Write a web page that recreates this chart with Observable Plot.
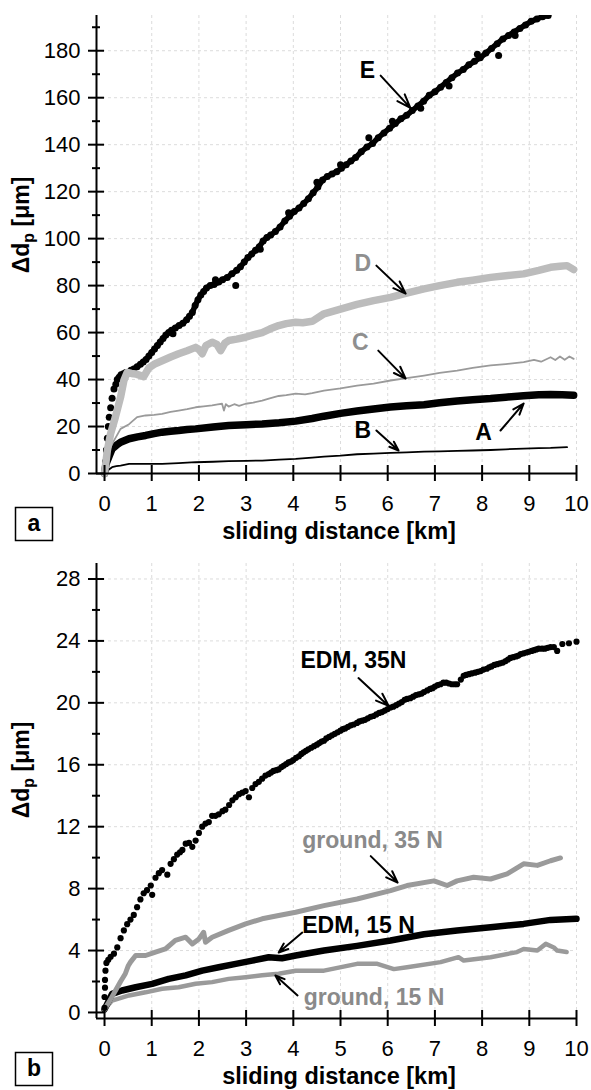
<!DOCTYPE html>
<html><head><meta charset="utf-8">
<script src="https://cdn.jsdelivr.net/npm/d3@7"></script>
<script src="https://cdn.jsdelivr.net/npm/@observablehq/plot@0.6"></script>
<style>body{margin:0;background:#fff} #c{width:591px;line-height:0}</style>
</head><body><div id="c"></div>
<script>
// ---------- tick values ----------
const xTicks = [0,1,2,3,4,5,6,7,8,9,10];
const yTicksA = [0,20,40,60,80,100,120,140,160,180];
const yMinorA = [10,30,50,70,90,110,130,150,170,190];
const yTicksB = [0,4,8,12,16,20,24,28];
const yMinorB = [2,6,10,14,18,22,26];

// ---------- panel a series: [sliding distance km, Δdp µm] ----------
const curveE = [[0,0],[0.02,5],[0.04,10],[0.06,15],[0.08,20],[0.1,24],[0.13,28],[0.16,32],[0.2,36],[0.24,38],[0.27,40],[0.31,41],[0.35,42],[0.4,42.5],[0.45,43],[0.5,43],[0.56,44],[0.62,44.5],[0.69,45.5],[0.76,46.5],[0.82,47.5],[0.88,48.5],[0.94,50],[1.0,51.5],[1.06,53],[1.12,54.5],[1.18,56],[1.24,57.5],[1.3,59],[1.36,60],[1.42,61],[1.5,62],[1.58,63],[1.66,64],[1.74,65.5],[1.8,67],[1.86,68.5],[1.92,71.5],[1.98,74],[2.04,76],[2.1,77.5],[2.16,79],[2.24,80],[2.32,80.5],[2.42,81.5],[2.5,82.5],[2.6,83.5],[2.7,85],[2.8,86.5],[2.88,88],[2.96,90],[3.04,92],[3.12,93.5],[3.2,95],[3.28,96.5],[3.36,99],[3.44,100.5],[3.52,101.5],[3.62,103],[3.72,105],[3.82,107.5],[3.92,109.5],[4.02,111.5],[4.12,113],[4.22,115],[4.32,117],[4.42,119.5],[4.52,122],[4.62,125],[4.72,126.5],[4.82,127.5],[4.92,128.5],[5.02,130],[5.12,131.5],[5.22,133],[5.32,134.5],[5.44,137],[5.56,139],[5.68,140.5],[5.8,143],[5.92,145],[6.04,147],[6.16,149],[6.28,151],[6.4,152.5],[6.52,154.5],[6.64,156.5],[6.76,158.5],[6.88,161],[7.0,162.5],[7.12,164.5],[7.24,166.5],[7.36,168.5],[7.48,170.5],[7.6,172],[7.72,174],[7.84,175.5],[7.96,177],[8.08,179],[8.2,181],[8.32,183],[8.44,185],[8.56,186.5],[8.68,188],[8.8,189.5],[8.92,191],[9.04,192.5],[9.16,193.5],[9.28,194.5],[9.4,195]];
const strayE = [[2.78,80],[5.6,143],[8.35,178],[2.35,82.5],[4.5,124],[6.1,150],[7.3,165],[3.3,95.5],[1.45,59.5],[3.9,111],[5.0,131.5],[6.7,155.5],[7.9,178.5],[8.7,186.5]];
const curveD = [[0,0],[0.06,9.8],[0.13,17],[0.23,24],[0.34,32.5],[0.41,39.6],[0.48,43],[0.57,42.6],[0.66,42.4],[0.75,41.8],[0.83,41.2],[0.94,45],[1.05,46.5],[1.22,48],[1.4,49.6],[1.57,51],[1.75,52.3],[1.93,53.7],[2.0,52.8],[2.07,51],[2.15,54.5],[2.28,55.9],[2.38,55],[2.46,52.3],[2.55,55.5],[2.63,56.6],[2.8,57.2],[2.99,58],[3.15,59],[3.34,60],[3.5,61.5],[3.69,63],[3.85,63.8],[4.05,64.4],[4.2,64.2],[4.4,64.8],[4.65,68],[5.0,70],[5.35,72],[5.7,73.6],[6.06,75],[6.4,76.8],[6.77,78.6],[7.1,80],[7.47,81.4],[7.8,82.3],[8.18,83.5],[8.5,84.2],[8.88,85],[9.2,86.5],[9.45,87.8],[9.65,88.2],[9.8,88.5],[9.94,86.8]];
const curveC = [[0,0],[0.05,6],[0.09,9.8],[0.2,14],[0.34,19],[0.52,21],[0.69,24],[0.87,24.7],[1.05,25],[1.22,25.4],[1.4,26.2],[1.57,26.8],[1.75,27.4],[1.93,28.2],[2.1,28.6],[2.28,29],[2.4,29.4],[2.49,29.7],[2.53,26.8],[2.57,29.5],[2.63,28.5],[2.75,29.5],[2.85,28.8],[2.99,29.7],[3.15,30.2],[3.34,31],[3.5,32],[3.69,33],[3.85,33.4],[4.05,34],[4.25,33.7],[4.4,34.2],[4.65,35.3],[5.0,36.2],[5.35,37.4],[5.7,38.3],[6.06,39.6],[6.4,40.6],[6.77,41.7],[7.1,42.8],[7.47,43.8],[7.8,45],[8.18,46],[8.5,46.6],[8.88,47.4],[9.1,48.4],[9.25,47.6],[9.45,49.5],[9.55,48.3],[9.65,49.8],[9.75,48.4],[9.85,49.8],[9.94,48.8]];
const curveA = [[0,0],[0.03,4],[0.09,7],[0.16,10.5],[0.25,12],[0.34,13.3],[0.52,14.8],[0.7,15.6],[0.87,16.2],[1.05,17],[1.22,17.6],[1.4,18],[1.57,18.3],[1.75,18.7],[1.93,19],[2.3,19.8],[2.63,20.4],[3.0,20.8],[3.34,21.1],[3.7,21.6],[4.05,22.3],[4.4,23.4],[4.65,24.4],[5.0,25.6],[5.35,26.6],[5.7,27.5],[6.06,28.3],[6.4,28.8],[6.77,29.3],[7.1,30.1],[7.47,30.9],[7.8,31.4],[8.18,31.9],[8.5,32.5],[8.88,33.1],[9.2,33.5],[9.45,33.6],[9.7,33.5],[9.94,33.3]];
const curveB = [[0,0],[0.08,1.5],[0.16,2.7],[0.25,3.1],[0.34,3.4],[0.52,4.1],[0.87,4.1],[1.22,4.1],[1.57,4.4],[1.93,4.8],[2.3,5.0],[2.63,5.3],[3.0,5.4],[3.34,5.5],[3.7,5.9],[4.05,6.2],[4.4,6.8],[4.65,7.2],[5.0,7.6],[5.35,8.2],[5.7,8.5],[6.06,8.8],[6.4,9.0],[6.77,9.3],[7.1,9.4],[7.47,9.6],[7.8,9.8],[8.18,10],[8.5,10.3],[8.88,10.6],[9.2,10.8],[9.45,10.9],[9.8,11.2]];

// ---------- panel b series ----------
const edm35 = [[0,0.3],[0,1.0],[0.01,1.6],[0.01,2.1],[0.02,2.7],[0.04,3.2],[0.08,3.4],[0.13,3.6],[0.2,3.8],[0.27,4.2],[0.34,4.8],[0.41,5.3],[0.48,5.7],[0.55,6.0],[0.62,6.3],[0.69,6.8],[0.76,7.3],[0.83,7.7],[0.9,7.9],[0.98,8.2],[1.01,7.6],[1.08,8.7],[1.15,9.0],[1.22,9.2],[1.33,8.9],[1.4,9.6],[1.47,9.9],[1.54,10.2],[1.6,10.35],[1.65,10.5],[1.72,10.9],[1.79,10.95],[1.86,10.7],[1.93,11.1],[2.0,11.6],[2.07,12.0],[2.14,12.2],[2.21,12.3],[2.28,12.7],[2.35,12.7],[2.42,12.8],[2.5,13.0],[2.56,13.1],[2.64,13.4],[2.71,13.7],[2.78,13.9],[2.85,14.1],[2.92,14.2],[2.99,14.3],[3.06,13.9],[3.13,14.5],[3.2,14.75],[3.27,14.9],[3.34,15.1],[3.41,15.3],[3.48,15.4],[3.53,15.5],[3.58,15.6],[3.64,15.65],[3.69,15.7],[3.75,15.85],[3.8,15.95],[3.85,16.05],[3.9,16.15],[3.95,16.2],[4.0,16.3],[4.06,16.45],[4.12,16.55],[4.17,16.7],[4.22,16.8],[4.27,16.9],[4.32,17.0],[4.38,17.1],[4.44,17.2],[4.5,17.3],[4.55,17.4],[4.6,17.5],[4.65,17.55],[4.7,17.7],[4.76,17.8],[4.82,17.9],[4.88,18.0],[4.94,18.1],[5.0,18.2],[5.05,18.3],[5.1,18.35],[5.16,18.45],[5.22,18.55],[5.28,18.6],[5.35,18.7],[5.4,18.8],[5.46,18.85],[5.52,18.9],[5.58,19.0],[5.64,19.1],[5.7,19.15],[5.76,19.25],[5.82,19.35],[5.88,19.4],[5.94,19.5],[6.0,19.6],[6.06,19.7],[6.12,19.75],[6.18,19.85],[6.24,19.95],[6.3,20.05],[6.36,20.2],[6.41,20.25],[6.48,20.3],[6.54,20.4],[6.6,20.5],[6.66,20.55],[6.72,20.6],[6.77,20.7],[6.84,20.8],[6.9,20.9],[6.95,20.95],[7.0,21.05],[7.06,21.15],[7.12,21.2],[7.18,21.3],[7.24,21.3],[7.3,21.25],[7.36,21.2],[7.42,21.2],[7.47,21.2],[7.55,21.5],[7.61,21.75],[7.66,21.8],[7.72,21.85],[7.78,21.9],[7.85,21.95],[7.91,22.0],[7.97,22.05],[8.03,22.15],[8.1,22.2],[8.15,22.3],[8.2,22.35],[8.26,22.45],[8.32,22.5],[8.38,22.55],[8.44,22.6],[8.5,22.7],[8.55,22.8],[8.6,22.9],[8.66,22.95],[8.72,23.0],[8.77,23.05],[8.82,23.15],[8.88,23.2],[8.94,23.25],[8.99,23.3],[9.05,23.35],[9.1,23.4],[9.15,23.45],[9.2,23.5],[9.27,23.5],[9.33,23.5],[9.39,23.55],[9.45,23.6],[9.52,23.6],[9.59,23.35],[9.7,23.8],[9.84,23.85],[10.0,23.95]];
const ground35 = [[0,0.2],[0.1,0.7],[0.23,1.4],[0.34,2.0],[0.44,2.5],[0.5,3.0],[0.55,3.25],[0.66,3.68],[0.87,3.68],[1.08,3.9],[1.29,4.1],[1.5,4.65],[1.72,4.86],[1.86,4.43],[2.0,4.75],[2.1,5.18],[2.14,4.54],[2.28,4.86],[2.63,5.3],[2.99,5.72],[3.34,6.05],[3.69,6.26],[4.05,6.47],[4.65,6.9],[5.35,7.33],[6.06,7.87],[6.41,8.2],[6.98,8.5],[7.26,8.2],[7.47,8.5],[7.82,8.73],[8.18,8.62],[8.53,8.95],[8.88,9.6],[9.17,9.5],[9.45,9.8],[9.66,9.98]];
const edm15 = [[0,0.2],[0.16,1.2],[0.37,1.42],[0.66,1.63],[1.01,1.85],[1.36,2.17],[1.72,2.4],[2.07,2.7],[2.42,2.92],[2.78,3.14],[3.13,3.35],[3.48,3.57],[3.76,3.5],[4.05,3.68],[4.65,4.0],[5.35,4.3],[6.06,4.65],[6.77,5.05],[7.47,5.3],[8.18,5.5],[8.88,5.72],[9.45,5.98],[10.0,6.05]];
const ground15 = [[0,0.2],[0.16,0.77],[0.52,1.1],[0.87,1.3],[1.22,1.53],[1.57,1.63],[1.93,1.85],[2.28,1.96],[2.63,2.17],[2.99,2.28],[3.34,2.4],[3.69,2.5],[4.05,2.7],[4.65,2.7],[5.35,3.14],[5.78,3.14],[6.13,2.8],[6.41,2.92],[7.12,3.25],[7.5,3.57],[7.61,3.35],[8.18,3.57],[8.74,3.9],[8.88,4.1],[9.17,4.0],[9.35,4.43],[9.52,4.2],[9.59,4.0],[9.79,3.9]];

// ---------- annotations (data coordinates) ----------
const labelsA = [
  {t:"E", x:5.57, y:171.5, c:"#000"},
  {t:"D", x:5.47, y:89.4, c:"#8f8f8f"},
  {t:"C", x:5.42, y:55.7, c:"#8f8f8f"},
  {t:"B", x:5.47, y:18.3, c:"#000"},
  {t:"A", x:8.03, y:17.4, c:"#000"}
];
const arrowsA = [
  {x1:5.85,y1:169.4,x2:6.48,y2:155.7},
  {x1:5.76,y1:88.5,x2:6.38,y2:76.6},
  {x1:5.8,y1:52.3,x2:6.38,y2:40.4},
  {x1:5.76,y1:18.3,x2:6.23,y2:9.8},
  {x1:8.39,y1:18.3,x2:8.88,y2:29.8}
];
const labelsB = [
  {t:"EDM, 35N", x:4.15, y:22.7, c:"#000"},
  {t:"ground, 35 N", x:4.19, y:11.1, c:"#8a8a8a"},
  {t:"EDM, 15 N", x:4.19, y:5.6, c:"#000"},
  {t:"ground, 15 N", x:4.22, y:0.97, c:"#8a8a8a"}
];
const arrowsB = [
  {x1:5.38,y1:21.6,x2:6.02,y2:19.8},
  {x1:5.64,y1:10.1,x2:6.21,y2:8.39},
  {x1:4.19,y1:5.16,x2:3.69,y2:3.87},
  {x1:4.09,y1:1.1,x2:3.62,y2:2.39}
];

const toObj = a => a.map(([x,y]) => ({x,y}));
const FONT = "'Liberation Sans', Arial, Helvetica, sans-serif";

function frameMarks(yTicks, gridY){
  return [
    Plot.gridX(xTicks.slice(1), {stroke:"#dcdcdc", strokeOpacity:1, strokeDasharray:"3,3"}),
    Plot.gridY(gridY, {stroke:"#dcdcdc", strokeOpacity:1, strokeDasharray:"3,3"}),
    Plot.text(xTicks, {x:d=>d, text:d=>String(d), frameAnchor:"bottom", lineAnchor:"top", dy:22, fontSize:22, fill:"#000"}),
    Plot.text(yTicks, {y:d=>d, text:d=>String(d), frameAnchor:"left", textAnchor:"end", dx:-16, fontSize:22, fill:"#000"})
  ];
}
function axisLines(xmin, ymin, yTicks, yMinor){
  return [
    Plot.ruleY([ymin], {stroke:"#000", strokeWidth:2}),
    Plot.ruleX([xmin], {stroke:"#000", strokeWidth:2}),
    Plot.ruleX(xTicks, {x:d=>d, y1:ymin, y2:ymin, insetTop:-8, insetBottom:-8, stroke:"#000", strokeWidth:2}),
    Plot.ruleY(yTicks, {y:d=>d, x1:xmin, x2:xmin, insetLeft:-8, insetRight:-8, stroke:"#000", strokeWidth:2}),
    Plot.ruleY(yMinor, {y:d=>d, x1:xmin, x2:xmin, insetLeft:-4, insetRight:-4, stroke:"#000", strokeWidth:2})
  ];
}

function decorate(svg, letter){
  const s = d3.select(svg);
  // tick labels: make their size explicit on every element
  s.selectAll("text").filter(function(){ return /^\d+$/.test(this.textContent); })
    .attr("font-size", 22).style("font-size","22px").style("font-family", FONT);
  s.append("text").attr("x",339).attr("y",539).attr("text-anchor","middle")
    .style("font-weight","bold").style("font-size","23.5px").attr("fill","#000").text("sliding distance [km]");
  const t = s.append("text").attr("transform","translate(29,225) rotate(-90)").attr("text-anchor","middle")
    .style("font-weight","bold").style("font-size","23px").attr("fill","#000");
  t.append("tspan").text("\u0394d");
  t.append("tspan").attr("dy",5).style("font-size","16px").text("p");
  t.append("tspan").attr("dy",-5).text(" [\u03bcm]");
  s.append("rect").attr("x",15.5).attr("y",507.5).attr("width",37).attr("height",33)
    .attr("fill","#fff").attr("stroke","#000").attr("stroke-width",1.5);
  s.append("text").attr("x",34).attr("y",531).attr("text-anchor","middle")
    .style("font-weight","bold").style("font-size","23px").attr("fill","#000").text(letter);
}

const style = {fontFamily: FONT, fontSize:"22px", color:"#000", background:"#fff", overflow:"visible"};

// Panel a
const xminA = -0.17, yminA = 0;
const plotA = Plot.plot({
  width:591, height:545, marginLeft:96, marginRight:15, marginTop:15, marginBottom:72,
  x:{domain:[xminA,10], axis:null}, y:{domain:[yminA,195], axis:null}, style,
  marks:[
    ...frameMarks(yTicksA, yTicksA.slice(1)),
    Plot.line(toObj(curveB), {x:"x", y:"y", stroke:"#000", strokeWidth:1.8}),
    Plot.line(toObj(curveA), {x:"x", y:"y", stroke:"#000", strokeWidth:7.5, strokeLinecap:"round", strokeLinejoin:"round"}),
    Plot.line(toObj(curveC), {x:"x", y:"y", stroke:"#9a9a9a", strokeWidth:1.8}),
    Plot.line(toObj(curveE), {x:"x", y:"y", filter:d=>d.x>=0.45, stroke:"#000", strokeWidth:5.5, clip:true}),
    Plot.dot(toObj(curveE), {x:"x", y:"y", r:3.5, fill:"#000", clip:true}),
    Plot.dot(toObj(strayE), {x:"x", y:"y", r:3.5, fill:"#000", clip:true}),
    Plot.line(toObj(curveD), {x:"x", y:"y", stroke:"#bcbcbc", strokeWidth:7.5, strokeLinecap:"round", strokeLinejoin:"round"}),
    ...axisLines(xminA, yminA, yTicksA, yMinorA),
    Plot.arrow(arrowsA, {x1:"x1", y1:"y1", x2:"x2", y2:"y2", stroke:"#000", strokeWidth:2, headLength:11, headAngle:40}),
    Plot.text(labelsA, {x:"x", y:"y", text:"t", fill:"c", fontWeight:"bold", fontSize:23, textAnchor:"middle"})
  ]
});
decorate(plotA, "a");

// Panel b
const xminB = -0.17, yminB = -0.39;
const plotB = Plot.plot({
  width:591, height:545, marginLeft:96, marginRight:15, marginTop:18, marginBottom:72,
  x:{domain:[xminB,10], axis:null}, y:{domain:[yminB,29], axis:null}, style,
  marks:[
    ...frameMarks(yTicksB, yTicksB.slice(1)),
    Plot.line(toObj(ground15), {x:"x", y:"y", stroke:"#9a9a9a", strokeWidth:4.5, strokeLinejoin:"round"}),
    Plot.line(toObj(edm15), {x:"x", y:"y", stroke:"#000", strokeWidth:6.5, strokeLinecap:"round", strokeLinejoin:"round"}),
    Plot.line(toObj(ground35), {x:"x", y:"y", stroke:"#9a9a9a", strokeWidth:5, strokeLinejoin:"round", strokeLinecap:"round"}),
    Plot.dot(toObj(edm35), {x:"x", y:"y", r:3.1, fill:"#000"}),
    ...axisLines(xminB, yminB, yTicksB, yMinorB),
    Plot.arrow(arrowsB, {x1:"x1", y1:"y1", x2:"x2", y2:"y2", stroke:"#000", strokeWidth:2, headLength:11, headAngle:40}),
    Plot.text(labelsB, {x:"x", y:"y", text:"t", fill:"c", fontWeight:"bold", fontSize:23, textAnchor:"start"})
  ]
});
decorate(plotB, "b");

document.getElementById("c").append(plotA, plotB);
</script>
</body></html>
